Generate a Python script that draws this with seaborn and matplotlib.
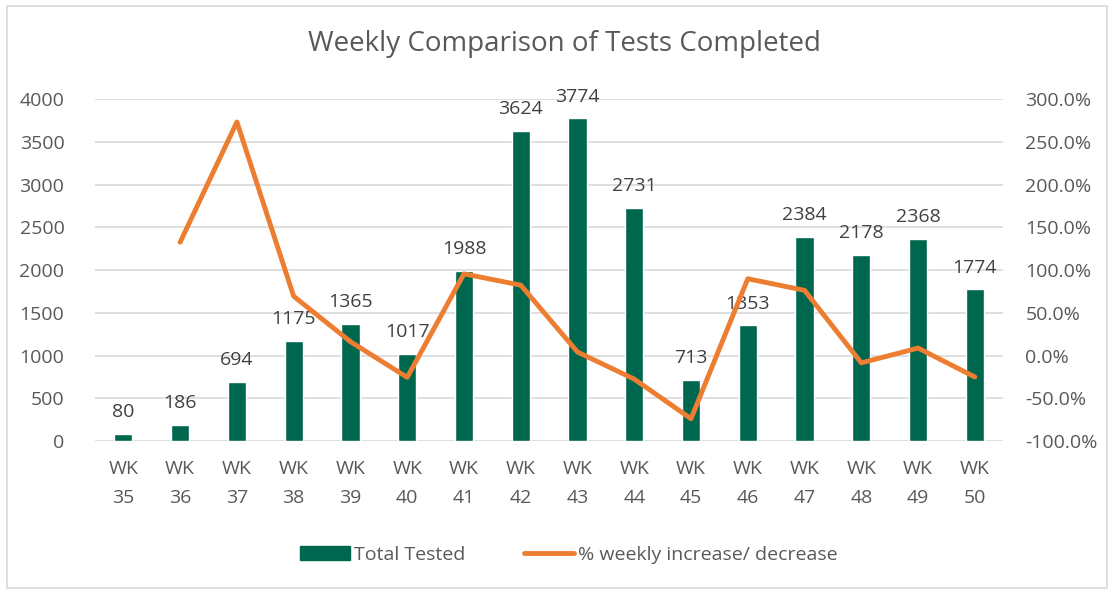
import numpy as np
import pandas as pd
import matplotlib
matplotlib.use('Agg')
import matplotlib.pyplot as plt
import seaborn as sns
from matplotlib.patches import Rectangle
from matplotlib.ticker import FuncFormatter

sns.set_theme(style='white')
plt.rcParams['font.family'] = ['Open Sans', 'DejaVu Sans']

#^ Data ============================================================================================>
weeks = ['WK\n35', 'WK\n36', 'WK\n37', 'WK\n38', 'WK\n39', 'WK\n40', 'WK\n41', 'WK\n42',
         'WK\n43', 'WK\n44', 'WK\n45', 'WK\n46', 'WK\n47', 'WK\n48', 'WK\n49', 'WK\n50']
total_tested = [80, 186, 694, 1175, 1365, 1017, 1988, 3624, 3774, 2731, 713, 1353, 2384, 2178, 2368, 1774]
pct_change = [np.nan, 132.5, 273.1, 69.3, 16.2, -25.5, 95.5, 82.3, 4.1, -27.6, -73.9, 89.8, 76.2, -8.6, 8.7, -25.1]

bar_color = '#00674F'
line_color = '#ED7D31'
text_color = '#595959'
grid_color = '#D9D9D9'

df = pd.DataFrame({'Week': weeks, 'Total Tested': total_tested, 'Pct': pct_change})

#^ Plot ============================================================================================>
fig = plt.figure(figsize=(11.11, 5.90), dpi=100)
ax = fig.add_axes([0.0855, 0.2525, 0.8175, 0.5797])

sns.barplot(data=df, x='Week', y='Total Tested', color=bar_color, width=0.32, ax=ax,
            saturation=1, zorder=2)
ax.set_ylim(0, 4000)
ax.set_xlim(-0.5, len(weeks) - 0.5)
ax.set_yticks(range(0, 4001, 500))
ax.grid(axis='y', color=grid_color, linewidth=1.2, zorder=0)
ax.set_axisbelow(True)

for i, v in enumerate(total_tested):
    ax.text(i, v + 150, str(v), ha='center', va='bottom', fontsize=14, color='#404040')

ax2 = ax.twinx()
sns.lineplot(x=np.arange(len(weeks)), y=df['Pct'], color=line_color, linewidth=3.5, ax=ax2)
ax2.set_ylim(-100, 300)
ax2.set_yticks(range(-100, 301, 50))
ax2.yaxis.set_major_formatter(FuncFormatter(lambda v, p: f'{v:.1f}%'))

for a in (ax, ax2):
    for s in a.spines.values():
        s.set_visible(False)
    a.tick_params(length=0, labelsize=14, colors=text_color)
    a.set_xlabel('')
    a.set_ylabel('')
ax.tick_params(axis='x', pad=14)
ax.tick_params(axis='y', pad=22)
ax2.tick_params(axis='y', pad=16)
for lbl in ax.get_xticklabels():
    lbl.set_linespacing(1.75)

fig.suptitle('Weekly Comparison of Tests Completed', x=0.508, y=0.95, fontsize=20, color=text_color)

handles = [Rectangle((0, 0), 1, 1, color=bar_color),
           plt.Line2D([0], [0], color=line_color, linewidth=3.5, solid_capstyle='round')]
fig.legend(handles, ['Total Tested', '% weekly increase/ decrease'],
           loc='center', bbox_to_anchor=(0.512, 0.06), ncol=2, frameon=False, fontsize=14,
           labelcolor=text_color, handlelength=2.6, handletextpad=0.2, columnspacing=3)

fig.patches.append(Rectangle((0.006, 0.004), 0.99, 0.985, transform=fig.transFigure,
                             fill=False, edgecolor='#D9D9D9', linewidth=1.2))

fig.savefig('out.png', dpi=100)
